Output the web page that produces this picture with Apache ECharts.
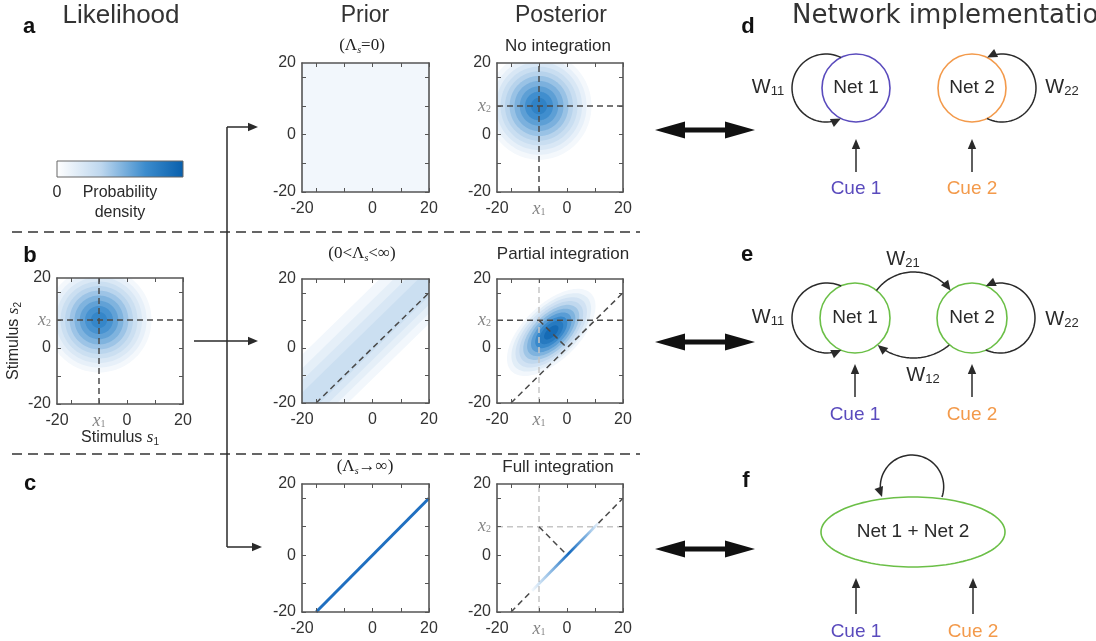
<!DOCTYPE html>
<html>
<head>
<meta charset="utf-8">
<script src="https://cdn.jsdelivr.net/npm/echarts@6.0.0/dist/echarts.min.js"></script>
<style>
html,body{margin:0;padding:0;background:#fff;}
#chart{width:1096px;height:641px;}
</style>
</head>
<body>
<div id="chart"></div>
<script>
// ---------------- values ----------------
const xRange = [-20, 16];
const yRange = [-16, 20];
const tickValues = [-16, -8, 0, 8, 16];
const xLabelValues = [-20, 0, 16];
const xLabelText = ['-20', '0', '20'];
const yLabelValues = [-16, 0, 20];
const yLabelText = ['-20', '0', '20'];
const cueObs = [-8, 8];                       // observed cues x1, x2
// likelihood filled contours (circles around the cues)
const likeRadii  = [15, 13.6, 12.3, 11, 9.7, 8.4, 7, 5.5, 4, 2.3];
const likeLevels = [0.06, 0.13, 0.2, 0.28, 0.36, 0.44, 0.52, 0.6, 0.67, 0.74];
// posterior, no integration
const postARadii  = [15, 13.6, 12.3, 11, 9.7, 8.4, 7, 5.5, 4, 2.3];
const postALevels = [0.06, 0.13, 0.21, 0.29, 0.37, 0.45, 0.53, 0.61, 0.69, 0.77];
// prior, no integration (flat)
const priorFlatLevel = [0.07];
// prior, partial integration: bands along s2 = s1 (offsets in s2 - s1)
const priorBandLow    = [-9, -6, -3.5, -1];
const priorBandHigh   = [18, 14, 10.5, 7];
const priorBandLevels = [0.07, 0.14, 0.21, 0.28];
// posterior, partial integration: tilted ellipses
const postBCenter = [-4.5, 4.5];
const postBMajor  = [16, 14.4, 12.9, 11.5, 10.1, 8.7, 7.3, 5.8, 4.3, 2.6];
const postBMinor  = [8, 7.2, 6.5, 5.8, 5.1, 4.4, 3.7, 2.9, 2.2, 1.3];
const postBLevels = [0.07, 0.16, 0.25, 0.34, 0.43, 0.52, 0.62, 0.72, 0.82, 0.92];
const postBAngle  = [45];
// full integration
const priorLine     = [[-16, -16], [16, 16]];
const perpFoot      = [0, 0];
const postCSegment  = [[-10, -10], [9, 9]];
const postCPeakPos  = [0.55];
const postCDiagLow  = [[-16, -16], [-10, -10]];
const postCDiagHigh = [[9, 9], [16, 16]];

// ---------------- colour map ----------------
const cmapStops = [[0, [255, 255, 255]], [0.35, [190, 215, 238]], [0.7, [60, 140, 205]], [1, [8, 95, 172]]];
function cmap(t) {
  for (let k = 1; k < cmapStops.length; k++) {
    if (t <= cmapStops[k][0]) {
      const a = cmapStops[k - 1], b = cmapStops[k];
      const f = (t - a[0]) / (b[0] - a[0]);
      const c = a[1].map((v, i) => Math.round(v + (b[1][i] - v) * f));
      return 'rgb(' + c.join(',') + ')';
    }
  }
  return 'rgb(8,95,172)';
}

// ---------------- panels ----------------
const panels = [
  { box: [57, 278, 126, 126], obs: true },   // 0 likelihood
  { box: [302, 63, 127, 129], obs: false },  // 1 prior a
  { box: [497, 63, 126, 129], obs: true },   // 2 posterior a
  { box: [302, 279, 127, 124], obs: false }, // 3 prior b
  { box: [497, 279, 126, 124], obs: true },  // 4 posterior b
  { box: [302, 484, 127, 128], obs: false }, // 5 prior c
  { box: [497, 484, 126, 128], obs: true }   // 6 posterior c
];

const labelRich = {
  i: { fontFamily: 'Liberation Serif', fontStyle: 'italic', fontSize: 18, color: '#858585', lineHeight: 16 },
  s: { fontFamily: 'Liberation Serif', fontSize: 10, color: '#858585', lineHeight: 4, verticalAlign: 'bottom' }
};
const axisLineStyle = { color: '#555', width: 1.6 };

function makeX(gi, obs, pos) {
  const main = pos === 'bottom';
  const vals = obs ? xLabelValues.concat([cueObs[0]]) : xLabelValues.slice();
  return {
    type: 'value', gridIndex: gi, position: pos, min: xRange[0], max: xRange[1], z: 10,
    axisLine: { show: true, onZero: false, lineStyle: axisLineStyle },
    axisTick: { show: true, inside: true, length: 4, customValues: tickValues, lineStyle: { color: '#555', width: 1 } },
    splitLine: { show: false },
    axisLabel: {
      show: main, customValues: vals, margin: 9, fontSize: 16, fontFamily: 'Liberation Sans', color: '#333',
      formatter: v => (v === cueObs[0] ? '{i|x}{s|1}' : xLabelText[xLabelValues.indexOf(v)]),
      rich: labelRich
    }
  };
}
function makeY(gi, obs, pos) {
  const main = pos === 'left';
  const vals = obs ? yLabelValues.concat([cueObs[1]]) : yLabelValues.slice();
  return {
    type: 'value', gridIndex: gi, position: pos, min: yRange[0], max: yRange[1], z: 10,
    axisLine: { show: true, onZero: false, lineStyle: axisLineStyle },
    axisTick: { show: true, inside: true, length: 4, customValues: tickValues, lineStyle: { color: '#555', width: 1 } },
    splitLine: { show: false },
    axisLabel: {
      show: main, customValues: vals, margin: 6, fontSize: 16, fontFamily: 'Liberation Sans', color: '#333',
      formatter: v => (v === cueObs[1] ? '{i|x}{s|2}' : yLabelText[yLabelValues.indexOf(v)]),
      rich: labelRich
    }
  };
}

const grids = [], xAxes = [], yAxes = [];
panels.forEach((p, gi) => {
  grids.push({ left: p.box[0], top: p.box[1], width: p.box[2], height: p.box[3], containLabel: false, outerBoundsMode: 'none' });
  xAxes.push(makeX(gi, p.obs, 'bottom'), makeX(gi, p.obs, 'top'));
  yAxes.push(makeY(gi, p.obs, 'left'), makeY(gi, p.obs, 'right'));
});

// ---------------- series ----------------
function ellipseItem(params, api) {
  const cx = api.value(0), cy = api.value(1), a = api.value(2), b = api.value(3);
  const ang = api.value(4) * Math.PI / 180, t = api.value(5);
  const pts = [];
  for (let k = 0; k < 120; k++) {
    const ph = 2 * Math.PI * k / 120;
    const ex = a * Math.cos(ph), ey = b * Math.sin(ph);
    pts.push(api.coord([cx + ex * Math.cos(ang) - ey * Math.sin(ang), cy + ex * Math.sin(ang) + ey * Math.cos(ang)]));
  }
  return { type: 'polygon', shape: { points: pts }, style: { fill: cmap(t) } };
}
function bandItem(params, api) {
  const lo = api.value(0), hi = api.value(1), t = api.value(2);
  const pts = [api.coord([-60, -60 + lo]), api.coord([60, 60 + lo]), api.coord([60, 60 + hi]), api.coord([-60, -60 + hi])];
  return { type: 'polygon', shape: { points: pts }, style: { fill: cmap(t) } };
}
function flatItem(params, api) {
  const cs = params.coordSys;
  return { type: 'rect', shape: { x: cs.x, y: cs.y, width: cs.width, height: cs.height }, style: { fill: cmap(api.value(0)) } };
}
function custom(gi, data, renderItem, dims) {
  return {
    type: 'custom', xAxisIndex: 2 * gi, yAxisIndex: 2 * gi, data: data, renderItem: renderItem,
    dimensions: dims, encode: { x: 0, y: 1 }, clip: true, silent: true, z: 1
  };
}
function dashed(gi, pts, light) {
  return {
    type: 'line', xAxisIndex: 2 * gi, yAxisIndex: 2 * gi, data: pts, symbol: 'none', silent: true, z: 4,
    lineStyle: { color: light ? '#c6c6c6' : '#4a4a4a', width: 1.5, type: [6, 4] }
  };
}
const ellDims = ['cx', 'cy', 'a', 'b', 'ang', 't'];
const vLine = [[cueObs[0], yRange[0]], [cueObs[0], yRange[1]]];
const hLine = [[xRange[0], cueObs[1]], [xRange[1], cueObs[1]]];
const perp = [[cueObs[0], cueObs[1]], perpFoot];

const series = [
  // likelihood
  custom(0, likeRadii.map((r, k) => [cueObs[0], cueObs[1], r, r, 0, likeLevels[k]]), ellipseItem, ellDims),
  dashed(0, vLine, false), dashed(0, hLine, false),
  // prior a
  custom(1, priorFlatLevel.map(v => [v]), flatItem, ['t']),
  // posterior a
  custom(2, postARadii.map((r, k) => [cueObs[0], cueObs[1], r, r, 0, postALevels[k]]), ellipseItem, ellDims),
  dashed(2, vLine, false), dashed(2, hLine, false),
  // prior b
  custom(3, priorBandLow.map((lo, k) => [lo, priorBandHigh[k], priorBandLevels[k]]), bandItem, ['lo', 'hi', 't']),
  dashed(3, priorLine, false),
  // posterior b
  custom(4, postBMajor.map((a, k) => [postBCenter[0], postBCenter[1], a, postBMinor[k], postBAngle[0], postBLevels[k]]), ellipseItem, ellDims),
  dashed(4, vLine, true), dashed(4, hLine, false), dashed(4, priorLine, false), dashed(4, perp, false),
  // prior c
  {
    type: 'line', xAxisIndex: 10, yAxisIndex: 10, data: priorLine, symbol: 'none', silent: true, z: 4,
    lineStyle: { color: '#1f6fc0', width: 3 }
  },
  // posterior c
  dashed(6, vLine, true), dashed(6, hLine, true), dashed(6, perp, false),
  dashed(6, postCDiagLow, false), dashed(6, postCDiagHigh, false),
  {
    type: 'line', xAxisIndex: 12, yAxisIndex: 12, data: postCSegment, symbol: 'none', silent: true, z: 5,
    lineStyle: {
      width: 2.8,
      color: {
        type: 'linear', x: 0, y: 0, x2: 1, y2: 0,
        colorStops: [
          { offset: 0, color: 'rgba(60,140,210,0)' },
          { offset: 0.3, color: 'rgba(50,130,205,0.55)' },
          { offset: postCPeakPos[0], color: 'rgba(20,105,190,1)' },
          { offset: 0.8, color: 'rgba(50,130,205,0.6)' },
          { offset: 1, color: 'rgba(60,140,210,0)' }
        ]
      }
    }
  }
];

// ---------------- annotation graphics ----------------
const G = [];
const SANS = 'Liberation Sans', SERIF = 'Liberation Serif';
function T(x, y, text, size, opts) {
  opts = opts || {};
  G.push({
    type: 'text', x: x, y: y, rotation: opts.rot || 0, silent: true, z: 20,
    style: Object.assign({
      text: text, fontSize: size, fontFamily: opts.family || SANS, fontWeight: opts.weight || 'normal',
      fill: opts.fill || '#2a2a2a', textAlign: opts.align || 'center', textVerticalAlign: 'middle',
      align: opts.align || 'center', verticalAlign: 'middle'
    }, opts.rich ? { rich: opts.rich } : {})
  });
}
function line(pts, color, w, dash) {
  G.push({ type: 'polyline', silent: true, z: 15, shape: { points: pts }, style: { stroke: color || '#2a2a2a', lineWidth: w || 1.5, fill: 'none', lineDash: dash || null } });
}
function head(tip, dir, len, hw, color) {
  const n = Math.hypot(dir[0], dir[1]), ux = dir[0] / n, uy = dir[1] / n;
  const bx = tip[0] - ux * len, by = tip[1] - uy * len;
  G.push({ type: 'polygon', silent: true, z: 16, shape: { points: [tip, [bx - uy * hw, by + ux * hw], [bx + uy * hw, by - ux * hw]] }, style: { fill: color || '#2a2a2a' } });
}
function arrow(p0, p1, color, len, hw) {
  const dx = p1[0] - p0[0], dy = p1[1] - p0[1], n = Math.hypot(dx, dy);
  const l = len || 10;
  line([p0, [p1[0] - dx / n * l * 0.6, p1[1] - dy / n * l * 0.6]], color, 1.5);
  head(p1, [dx, dy], l, hw || 4.2, color);
}
function arcArrow(cx, cy, r, a0, a1, color) {
  const n = 48;
  const s = Math.sign(a1 - a0), ae = a1 * Math.PI / 180;
  const tip = [cx + r * Math.cos(ae), cy + r * Math.sin(ae)];
  const dir = [-Math.sin(ae) * s, Math.cos(ae) * s];
  const trim = 6 / r * 180 / Math.PI * s;
  const pts = [];
  for (let k = 0; k <= n; k++) {
    const a = (a0 + (a1 - trim - a0) * k / n) * Math.PI / 180;
    pts.push([cx + r * Math.cos(a), cy + r * Math.sin(a)]);
  }
  line(pts, color || '#2a2a2a', 1.5);
  head(tip, dir, 10, 4.5, color);
}
function circle(cx, cy, r, color) {
  G.push({ type: 'circle', silent: true, z: 15, shape: { cx: cx, cy: cy, r: r }, style: { stroke: color, lineWidth: 1.6, fill: 'none' } });
}
function ellipseOutline(cx, cy, rx, ry, color) {
  const pts = [];
  for (let k = 0; k < 120; k++) { const a = 2 * Math.PI * k / 120; pts.push([cx + rx * Math.cos(a), cy + ry * Math.sin(a)]); }
  G.push({ type: 'polygon', silent: true, z: 15, shape: { points: pts }, style: { stroke: color, lineWidth: 1.6, fill: 'none' } });
}
function dblArrow(x0, x1, y) {
  const hl = 30, hh = 8.5, sh = 2.6;
  G.push({
    type: 'polygon', silent: true, z: 15,
    shape: { points: [[x0, y], [x0 + hl, y - hh], [x0 + hl, y - sh], [x1 - hl, y - sh], [x1 - hl, y - hh], [x1, y], [x1 - hl, y + hh], [x1 - hl, y + sh], [x0 + hl, y + sh], [x0 + hl, y + hh]] },
    style: { fill: '#111' }
  });
}

// column titles
T(121, 16, 'Likelihood', 26, { fill: '#333' });
T(365, 16, 'Prior', 23, { fill: '#333' });
T(561, 16, 'Posterior', 23, { fill: '#333' });
T(792, 16, 'Network implementation', 26, { fill: '#333', align: 'left', family: 'DejaVu Sans' });

// panel letters
[['a', 29, 27], ['b', 30, 256], ['c', 30, 484], ['d', 748, 27], ['e', 747, 255], ['f', 746, 481]].forEach(l =>
  T(l[1], l[2], l[0], 22, { weight: 'bold', fill: '#111' }));

// plot subtitles
const lamRich = {
  a: { fontFamily: SERIF, fontSize: 17, fill: '#222', color: '#222', lineHeight: 18 },
  s: { fontFamily: SERIF, fontStyle: 'italic', fontSize: 10, fill: '#222', color: '#222', lineHeight: 4, verticalAlign: 'bottom' }
};
T(362, 46, '{a|(Λ}{s|s}{a|=0)}', 17, { rich: lamRich });
T(558, 46, 'No integration', 17);
T(362, 254, '{a|(0<Λ}{s|s}{a|<∞)}', 17, { rich: lamRich });
T(563, 254, 'Partial integration', 17);
T(365, 467, '{a|(Λ}{s|s}{a|→∞)}', 17, { rich: lamRich });
T(558, 467, 'Full integration', 17);

// colour bar
G.push({
  type: 'rect', silent: true, z: 15, shape: { x: 57, y: 161, width: 126, height: 16 },
  style: {
    stroke: '#666', lineWidth: 1,
    fill: { type: 'linear', x: 0, y: 0, x2: 1, y2: 0, colorStops: cmapStops.map(s => ({ offset: s[0], color: 'rgb(' + s[1].join(',') + ')' })) }
  }
});
T(57, 193, '0', 16);
T(120, 193, 'Probability', 16);
T(120, 213, 'density', 16);

// likelihood axis names
const stimRich = {
  a: { fontFamily: SANS, fontSize: 16, fill: '#2a2a2a', color: '#2a2a2a', lineHeight: 18 },
  i: { fontFamily: SERIF, fontStyle: 'italic', fontSize: 17, fill: '#2a2a2a', color: '#2a2a2a', lineHeight: 18 },
  s: { fontFamily: SANS, fontSize: 10, fill: '#2a2a2a', color: '#2a2a2a', lineHeight: 4, verticalAlign: 'bottom' }
};
T(120, 438, '{a|Stimulus }{i|s}{s|1}', 16, { rich: stimRich });
T(14, 341, '{a|Stimulus }{i|s}{s|2}', 16, { rich: stimRich, rot: Math.PI / 2 });

// dashed separators
line([[12, 232], [640, 232]], '#333', 1.5, [10, 6]);
line([[12, 454], [640, 454]], '#333', 1.5, [10, 6]);

// connecting arrows
line([[227, 127], [227, 547]], '#2a2a2a', 1.5);
arrow([227, 127], [258, 127]);
arrow([194, 341], [258, 341]);
arrow([227, 547], [262, 547]);

// double arrows
dblArrow(655, 755, 130);
dblArrow(655, 755, 342);
dblArrow(655, 755, 549);

// network diagrams
const PURPLE = '#5a4bbd', ORANGE = '#f39a4b', GREEN = '#6bbf47';
const wRich = {
  w: { fontFamily: SANS, fontSize: 20, fill: '#2a2a2a', color: '#2a2a2a', lineHeight: 22 },
  s: { fontFamily: SANS, fontSize: 13, fill: '#2a2a2a', color: '#2a2a2a', lineHeight: 6, verticalAlign: 'bottom' }
};
// d
circle(856, 88, 34, PURPLE); circle(972, 88, 34, ORANGE);
T(856, 88, 'Net 1', 19); T(972, 88, 'Net 2', 19);
arcArrow(826, 88, 34, -64, -296);
arcArrow(1002, 88, 34, 116, -116);
T(768, 87, '{w|W}{s|11}', 20, { rich: wRich });
T(1062, 87, '{w|W}{s|22}', 20, { rich: wRich });
arrow([856, 172], [856, 139]); arrow([972, 172], [972, 139]);
T(856, 189, 'Cue 1', 19, { fill: PURPLE }); T(972, 189, 'Cue 2', 19, { fill: ORANGE });
// e
circle(855, 318, 35, GREEN); circle(972, 318, 35, GREEN);
T(855, 318, 'Net 1', 19); T(972, 318, 'Net 2', 19);
arcArrow(827, 318, 35, -66, -294);
arcArrow(1000, 318, 35, 114, -114);
arcArrow(913.5, 318.4, 46.4, -143, -37);
arcArrow(913.5, 302.3, 55.7, 50, 130);
T(768, 317, '{w|W}{s|11}', 20, { rich: wRich });
T(1062, 319, '{w|W}{s|22}', 20, { rich: wRich });
T(903, 259, '{w|W}{s|21}', 20, { rich: wRich });
T(923, 375, '{w|W}{s|12}', 20, { rich: wRich });
arrow([855, 397], [855, 364]); arrow([972, 397], [972, 364]);
T(855, 415, 'Cue 1', 19, { fill: PURPLE }); T(972, 415, 'Cue 2', 19, { fill: ORANGE });
// f
ellipseOutline(913, 532, 92, 35, GREEN);
T(913, 532, 'Net 1 + Net 2', 19);
arcArrow(912, 486.7, 31.7, 19, -199);
arrow([856, 614], [856, 578]); arrow([973, 614], [973, 578]);
T(856, 632, 'Cue 1', 19, { fill: PURPLE }); T(973, 632, 'Cue 2', 19, { fill: ORANGE });

// ---------------- chart ----------------
const chart = echarts.init(document.getElementById('chart'), null, { renderer: 'canvas', width: 1096, height: 641 });
chart.setOption({
  animation: false,
  backgroundColor: '#ffffff',
  grid: grids,
  xAxis: xAxes,
  yAxis: yAxes,
  series: series,
  graphic: { elements: G }
});
</script>
</body>
</html>
